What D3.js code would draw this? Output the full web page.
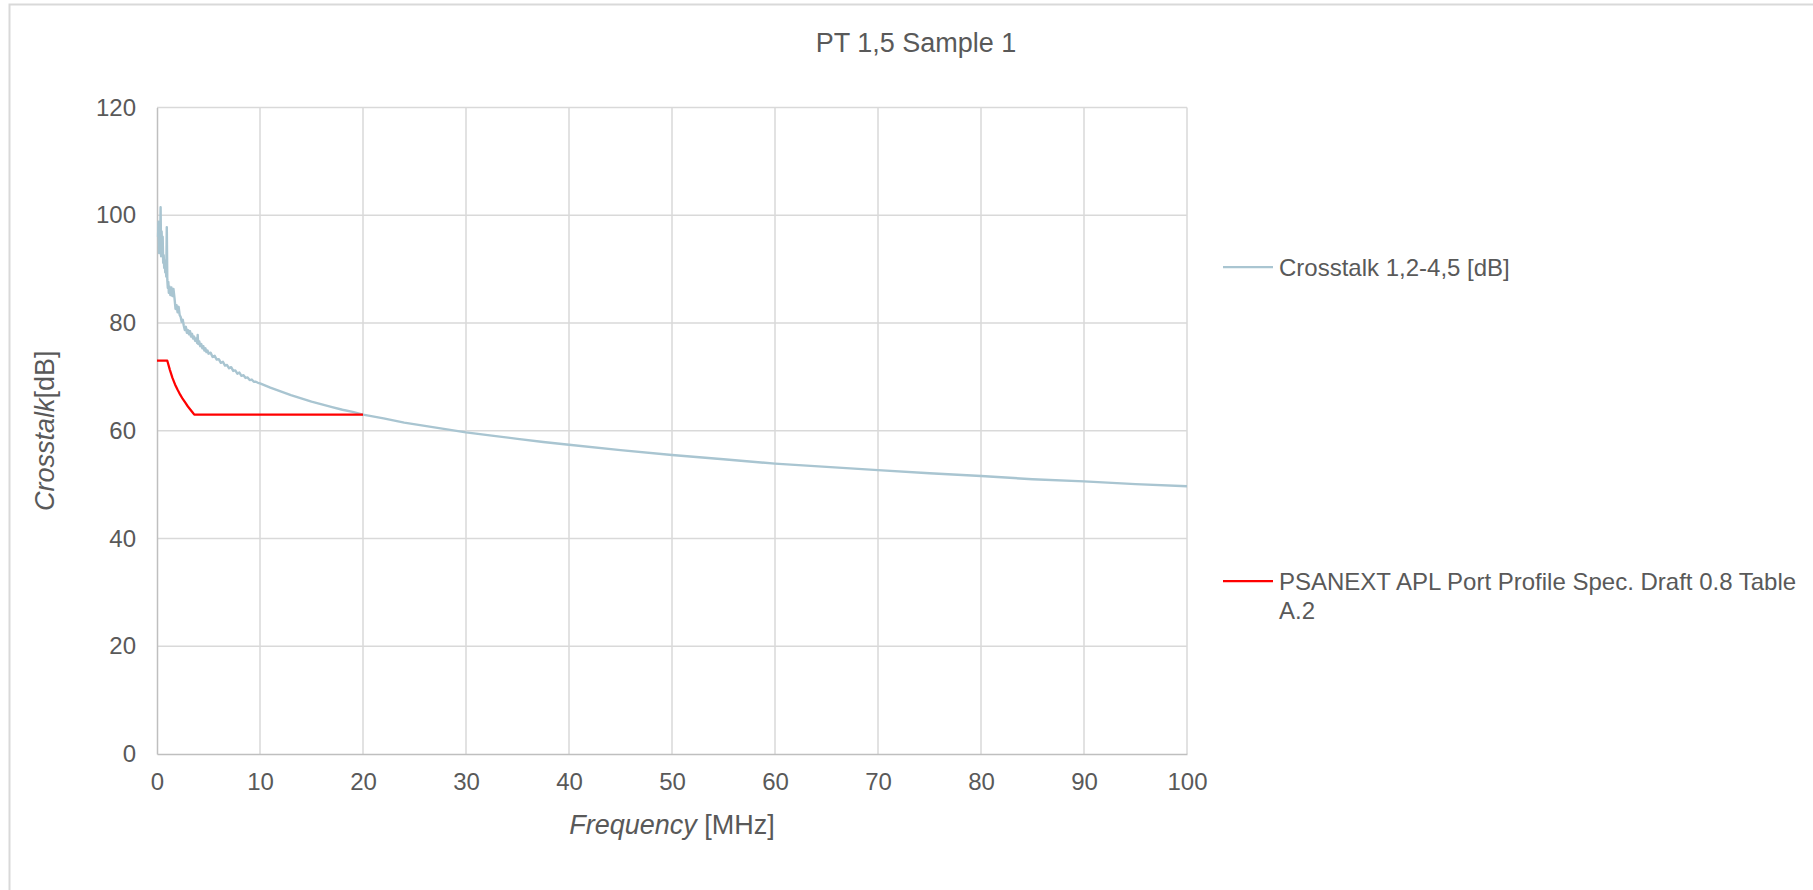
<!DOCTYPE html>
<html>
<head>
<meta charset="utf-8">
<script src="https://cdn.jsdelivr.net/npm/d3@7"></script>
<style>
  html, body { margin: 0; padding: 0; background: #ffffff; overflow: hidden; }
  svg { display: block; font-family: "Liberation Sans", Arial, sans-serif; }
</style>
</head>
<body>
<svg id="chart" width="1813" height="890"></svg>
<script>
// Measured crosstalk pair 1,2-4,5 (frequency in MHz, level in dB)
const crosstalkFreq = [
  0.1, 0.15, 0.2, 0.25, 0.3, 0.35, 0.4, 0.45, 0.5, 0.55, 0.6, 0.65, 0.7, 0.75, 0.8, 0.85, 0.9, 0.95,
  1.0, 1.05, 1.1, 1.15, 1.2, 1.3, 1.4, 1.5, 1.6, 1.7, 1.8, 1.9, 2.0, 2.1, 2.2, 2.3, 2.4, 2.5,
  2.6, 2.7, 2.8, 2.9, 3.0, 3.1, 3.2, 3.3, 3.4, 3.5, 3.6, 3.7, 3.8, 3.9, 3.95, 4.0, 4.1, 4.2,
  4.3, 4.4, 4.5, 4.6, 4.7, 4.8, 4.9, 5.0, 5.2, 5.4, 5.6, 5.8, 6.0, 6.2, 6.4, 6.6, 6.8, 7.0,
  7.2, 7.4, 7.6, 7.8, 8.0, 8.2, 8.4, 8.6, 8.8, 9.0, 9.2, 9.4, 9.6, 9.8, 10,
  11, 12, 13, 14, 15, 16, 17, 18, 19, 20, 22, 24, 26, 28, 30, 32.5, 35, 37.5, 40, 45, 50,
  55, 60, 65, 70, 75, 80, 85, 90, 95, 100
];
const crosstalkDb = [
  96.0, 98.8, 93.0, 98.2, 94.6, 101.5, 92.4, 97.0, 93.4, 96.0, 91.2, 92.6, 90.2, 91.6, 89.4, 90.6, 88.6, 97.8,
  88.0, 86.5, 87.6, 85.6, 86.8, 85.2, 86.6, 85.0, 86.3, 84.6, 82.6, 83.3, 82.0, 83.0, 81.5, 81.1, 80.2, 80.6,
  79.5, 78.7, 79.3, 78.2, 78.7, 77.9, 78.5, 77.5, 78.0, 77.1, 77.5, 76.7, 77.1, 76.3, 77.8, 76.1, 76.6, 75.7,
  76.1, 75.3, 75.7, 74.9, 75.3, 74.6, 74.9, 74.3, 74.5, 73.7, 73.9, 73.2, 73.3, 72.6, 72.8, 72.1, 72.2, 71.6,
  71.8, 71.1, 71.2, 70.6, 70.8, 70.2, 70.3, 69.8, 69.9, 69.4, 69.5, 69.1, 69.1, 68.9, 68.8,
  68.0, 67.3, 66.6, 66.0, 65.4, 64.9, 64.4, 63.9, 63.5, 63.0, 62.3, 61.5, 60.9, 60.3, 59.7, 59.1, 58.5, 57.9, 57.4, 56.4, 55.5,
  54.7, 53.9, 53.3, 52.7, 52.1, 51.6, 51.0, 50.6, 50.1, 49.7
];

// PSANEXT limit, APL Port Profile Spec. Draft 0.8 Table A.2
const limitFreq = [0, 1, 1.25, 1.5, 1.75, 2, 2.25, 2.5, 2.75, 3, 3.25, 3.5, 3.62, 20];
const limitDb   = [73, 73, 71.3, 69.8, 68.6, 67.6, 66.7, 65.9, 65.2, 64.5, 63.9, 63.3, 63, 63];

const xTicks = [0, 10, 20, 30, 40, 50, 60, 70, 80, 90, 100];
const yTicks = [0, 20, 40, 60, 80, 100, 120];

const chartTitle = "PT 1,5 Sample 1";
const seriesNames = ["Crosstalk 1,2-4,5 [dB]", ["PSANEXT APL Port Profile Spec. Draft 0.8 Table", "A.2"]];
const seriesColors = ["#a9c5d1", "#ff0000"];

const svg = d3.select("#chart");
const textColor = "#595959";
const fontSize = 24;
const titleSize = 27;

// outer chart frame
svg.append("rect")
  .attr("x", 9.5).attr("y", 4.5)
  .attr("width", 1830).attr("height", 900)
  .attr("fill", "#ffffff")
  .attr("stroke", "#d9d9d9").attr("stroke-width", 2);

const plot = { left: 157, right: 1187, top: 107.5, bottom: 754 };

const x = d3.scaleLinear().domain([0, 100]).range([plot.left, plot.right]);
const y = d3.scaleLinear().domain([0, 120]).range([plot.bottom, plot.top]);

// gridlines
const grid = svg.append("g");
grid.selectAll("line.v").data(xTicks.filter(d => d > 0)).join("line")
  .attr("x1", d => x(d)).attr("x2", d => x(d))
  .attr("y1", plot.top).attr("y2", plot.bottom)
  .attr("stroke", "#d9d9d9").attr("stroke-width", 1.5);
grid.selectAll("line.h").data(yTicks.filter(d => d > 0)).join("line")
  .attr("x1", plot.left).attr("x2", plot.right)
  .attr("y1", d => y(d)).attr("y2", d => y(d))
  .attr("stroke", "#d9d9d9").attr("stroke-width", 1.5);

// axes
const xAxis = svg.append("g")
  .attr("transform", `translate(0,${plot.bottom})`)
  .call(d3.axisBottom(x).tickValues(xTicks).tickSize(0).tickPadding(19));
const yAxis = svg.append("g")
  .attr("transform", `translate(${plot.left},0)`)
  .call(d3.axisLeft(y).tickValues(yTicks).tickSize(0).tickPadding(21));
[xAxis, yAxis].forEach(g => {
  g.select(".domain").attr("stroke", "#bfbfbf").attr("stroke-width", 1.5);
  g.selectAll("text")
    .attr("fill", textColor)
    .style("font-size", fontSize + "px")
    .style("font-family", '"Liberation Sans", Arial, sans-serif');
});

// series lines
const line = d3.line().x(d => x(d[0])).y(d => y(d[1]));
const crosstalk = crosstalkFreq.map((f, i) => [f, crosstalkDb[i]]);
const limit = limitFreq.map((f, i) => [f, limitDb[i]]);

svg.append("path").datum(crosstalk)
  .attr("d", line)
  .attr("fill", "none")
  .attr("stroke", seriesColors[0])
  .attr("stroke-width", 2.4)
  .attr("stroke-linejoin", "round");

svg.append("path").datum(limit)
  .attr("d", line)
  .attr("fill", "none")
  .attr("stroke", seriesColors[1])
  .attr("stroke-width", 2.25)
  .attr("stroke-linejoin", "round");

// title
svg.append("text")
  .attr("x", 916).attr("y", 52)
  .attr("text-anchor", "middle")
  .attr("fill", textColor)
  .style("font-size", titleSize + "px")
  .text(chartTitle);

// x axis title
const xt = svg.append("text")
  .attr("x", (plot.left + plot.right) / 2).attr("y", 833.5)
  .attr("text-anchor", "middle")
  .attr("fill", textColor)
  .style("font-size", titleSize + "px");
xt.append("tspan").style("font-style", "italic").text("Frequency");
xt.append("tspan").text(" [MHz]");

// y axis title
const yt = svg.append("text")
  .attr("transform", `translate(54,${(plot.top + plot.bottom) / 2}) rotate(-90)`)
  .attr("text-anchor", "middle")
  .attr("fill", textColor)
  .style("font-size", titleSize + "px");
yt.append("tspan").style("font-style", "italic").text("Crosstalk");
yt.append("tspan").text("[dB]");

// legend
const legendY = [267, 581];
const legend = svg.append("g");
seriesNames.forEach((name, i) => {
  legend.append("line")
    .attr("x1", 1223).attr("x2", 1273)
    .attr("y1", legendY[i]).attr("y2", legendY[i])
    .attr("stroke", seriesColors[i]).attr("stroke-width", 2.25);
  const lines = Array.isArray(name) ? name : [name];
  const t = legend.append("text")
    .attr("fill", textColor)
    .style("font-size", fontSize + "px");
  lines.forEach((s, j) => {
    t.append("tspan")
      .attr("x", 1279)
      .attr("y", legendY[i] + 8.5 + j * 29)
      .text(s);
  });
});
</script>
</body>
</html>
